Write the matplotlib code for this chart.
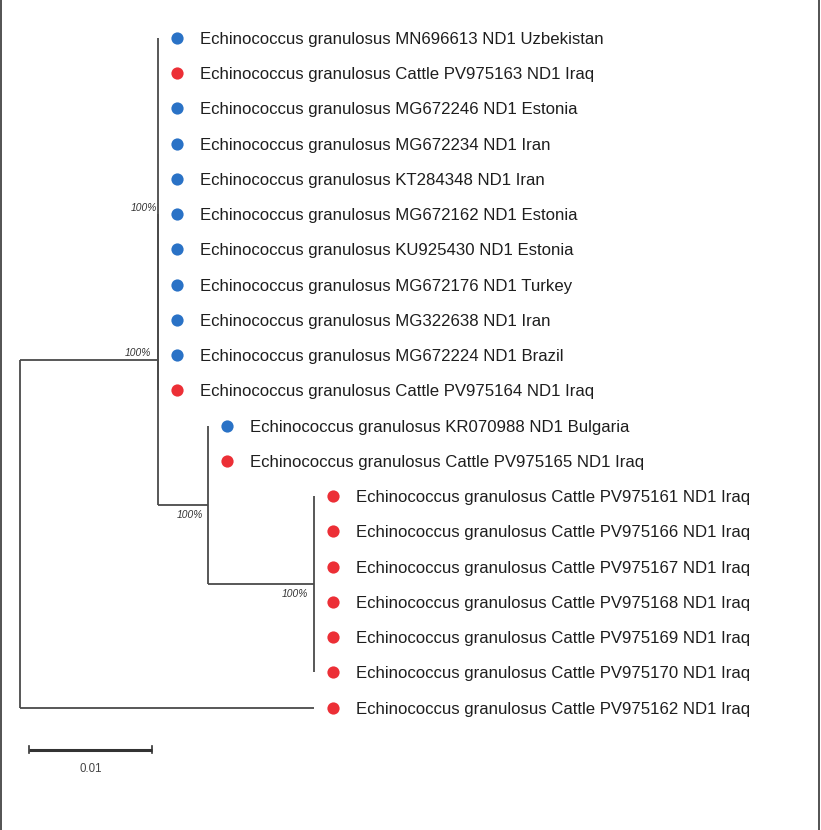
import matplotlib as mpl
mpl.use('Agg')
import matplotlib.pyplot as plt
from matplotlib.lines import Line2D

# leaves, top to bottom
clade_a_leaves = [
    'Echinococcus granulosus MN696613 ND1 Uzbekistan',
    'Echinococcus granulosus Cattle PV975163 ND1 Iraq',
    'Echinococcus granulosus MG672246 ND1 Estonia',
    'Echinococcus granulosus MG672234 ND1 Iran',
    'Echinococcus granulosus KT284348 ND1 Iran',
    'Echinococcus granulosus MG672162 ND1 Estonia',
    'Echinococcus granulosus KU925430 ND1 Estonia',
    'Echinococcus granulosus MG672176 ND1 Turkey',
    'Echinococcus granulosus MG322638 ND1 Iran',
    'Echinococcus granulosus MG672224 ND1 Brazil',
    'Echinococcus granulosus Cattle PV975164 ND1 Iraq',
]
clade_b_leaves = [
    'Echinococcus granulosus KR070988 ND1 Bulgaria',
    'Echinococcus granulosus Cattle PV975165 ND1 Iraq',
]
clade_c_leaves = [
    'Echinococcus granulosus Cattle PV975161 ND1 Iraq',
    'Echinococcus granulosus Cattle PV975166 ND1 Iraq',
    'Echinococcus granulosus Cattle PV975167 ND1 Iraq',
    'Echinococcus granulosus Cattle PV975168 ND1 Iraq',
    'Echinococcus granulosus Cattle PV975169 ND1 Iraq',
    'Echinococcus granulosus Cattle PV975170 ND1 Iraq',
]
outgroup_leaf = 'Echinococcus granulosus Cattle PV975162 ND1 Iraq'

# 'r' = reference sequence (blue), 'i' = this study, Iraq (red)
clade_a_groups = ['r', 'i', 'r', 'r', 'r', 'r', 'r', 'r', 'r', 'r', 'i']
clade_b_groups = ['r', 'i']
clade_c_groups = ['i', 'i', 'i', 'i', 'i', 'i']
outgroup_group = 'i'

# branch lengths (substitutions/site)
root_to_a = 0.0112
a_to_b = 0.0041
b_to_c = 0.0086
root_to_out = 0.0239

bootstrap_a_inner = '100%'
bootstrap_a = '100%'
bootstrap_b = '100%'
bootstrap_c = '100%'

scale_len = 0.01
scale_label = '0.01'

group_colors = {'r': '#2a72c6', 'i': '#ec2f36'}
line_col = '#4a4a4a'
text_col = '#1e1e1e'

W, H = 821, 830
fig = plt.figure(figsize=(W / 100, H / 100), dpi=100)
ax = fig.add_axes([0, 0, 1, 1])
px = 1 / 12300.0          # one pixel in branch-length units
row_px = 35.24
ax.set_xlim(-20 * px, (W - 20) * px)
ax.set_ylim((H - 38) / row_px, -38 / row_px)
ax.axis('off')

lw = 1.3
def seg(x0, y0, x1, y1):
    ax.plot([x0, x1], [y0, y1], color=line_col, lw=lw, solid_capstyle='butt')

def leaves(names, groups, x, start):
    ys = []
    for k, (n, g) in enumerate(zip(names, groups)):
        y = start + k
        ax.plot(x + 19 * px, y, 'o', ms=8.8, color=group_colors[g], mec='none')
        ax.text(x + 42 * px, y + 6 / row_px, n, fontsize=12.05, color=text_col,
                va='baseline', ha='left', family='Liberation Sans')
        ys.append(y)
    return ys

def boot(x, y, s, dy):
    ax.text(x - 2 * px, y + dy, s, fontsize=7.4, style='italic', color='#333333',
            ha='right', va='center', family='Liberation Sans')

xa = root_to_a
xb = xa + a_to_b
xc = xb + b_to_c
xo = root_to_out

ya_leaves = leaves(clade_a_leaves, clade_a_groups, xa, 0)
yb_leaves = leaves(clade_b_leaves, clade_b_groups, xb, len(clade_a_leaves))
yc_leaves = leaves(clade_c_leaves, clade_c_groups, xc,
                   len(clade_a_leaves) + len(clade_b_leaves))
yo = leaves([outgroup_leaf], [outgroup_group], xo,
            len(clade_a_leaves) + len(clade_b_leaves) + len(clade_c_leaves))[0]

# clade C
yc = (yc_leaves[0] + yc_leaves[-1]) / 2
seg(xc, yc_leaves[0], xc, yc_leaves[-1])
# clade B
yb = (yb_leaves[0] + yc) / 2
seg(xb, yb_leaves[0], xb, yc)
seg(xb, yc, xc, yc)
# inner polytomy of clade A
ya_in = (ya_leaves[0] + ya_leaves[-1]) / 2
seg(xa, ya_leaves[0], xa, ya_leaves[-1])
# clade A
ya = (ya_in + yb) / 2
seg(xa, ya_in, xa, yb)
seg(xa, yb, xb, yb)
# root
seg(0, ya, 0, yo)
seg(0, ya, xa, ya)
seg(0, yo, xo, yo)

boot(xa + 1 * px, ya_in, bootstrap_a_inner, -0.17)
boot(xa - 5 * px, ya, bootstrap_a, -0.2)
boot(xb - 3 * px, yb, bootstrap_b, 0.28)
boot(xc - 4 * px, yc, bootstrap_c, 0.28)

# scale bar
ys = yo + 1.2
sx0 = 9 * px
ax.plot([sx0, sx0 + scale_len], [ys, ys], color='#333333', lw=2.2, solid_capstyle='butt')
for sx in (sx0, sx0 + scale_len):
    ax.plot([sx, sx], [ys - 0.1, ys + 0.1], color='#333333', lw=1.2)
ax.text(sx0 + scale_len / 2, ys + 0.55, scale_label, fontsize=8.3, color='#444444',
        ha='center', va='center', family='Liberation Sans')

# frame sides
fig.add_artist(Line2D([1.2 / W, 1.2 / W], [0, 1], color='#444444', lw=1.3))
fig.add_artist(Line2D([1 - 2.5 / W, 1 - 2.5 / W], [0, 1], color='#444444', lw=1.3))

plt.savefig('out.png', dpi=100)
